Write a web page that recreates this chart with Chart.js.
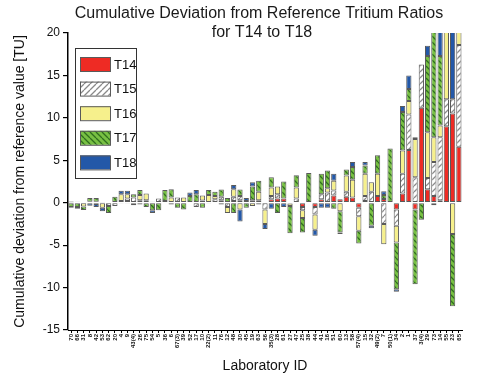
<!DOCTYPE html>
<html><head><meta charset="utf-8">
<script src="https://cdn.jsdelivr.net/npm/chart.js@4.4.1/dist/chart.umd.min.js"></script>
<style>html,body{margin:0;padding:0;background:#fff}canvas{display:block}</style>
</head><body>
<canvas id="c" width="500" height="375"></canvas>
<script>
const labs = ['70','66','31','8','42','53','62','20','4','9','43(4)','26','75','54','5','36','6','67(3)','39','52','17','10','22(2)','11','76','12','48','30','45','19','63','56','35(3)','28','61','27','47','25','38','44','41','16','51','60','13','58','57(4)','15','32','49(2)','7','50(1)','34','2','1','37','3(4)','29','73','14','55','23','65'];
const T14 = [0.05,0.1,-0.05,0.1,0.1,0.05,0,0,0.2,0.2,0,-0.2,0.3,0.1,0,0.2,0,0,0,0,0,0.25,-0.1,0,0.3,0,0.2,0.3,0.2,0.3,0.3,0,0.4,0.5,0.5,-0.1,0,-0.5,0,-0.5,0.4,0,0.85,0.4,0.7,0.6,-0.6,0.2,0,0.8,0.45,0,-0.8,1.1,6.2,-0.8,11.2,1.6,0.8,0.3,9.0,10.5,6.6];
const T15 = [0,0,0,0,0,0,-0.4,-0.4,0,0.3,0.6,0.3,0,0,0.5,0,-0.2,0.6,0,0,-0.5,0,0,0.4,0.4,-0.5,0.5,0.5,0,0,0,-0.8,0.4,0.5,0,0,0.5,-0.4,0,-0.9,0.6,1.2,0.6,0,0.6,0,-1.0,0.6,1.3,0,-2.5,0,-1.9,2.3,4.2,3.0,5.1,1.3,4.0,7.4,3.2,1.7,12.0];
const T16 = [0.1,0,-0.4,0,-0.15,-0.6,0,0,0.8,0.5,-0.3,0.6,0.8,0,0,0,0.6,0,0.6,0,0,0.6,0.9,0.4,-0.2,-0.7,0.9,-0.8,0,-0.4,1.0,-1.7,1.0,0.9,0,-0.3,1.3,-0.9,0,-1.8,0,0.5,1.15,-1.0,1.9,2.1,-1.7,2.6,1.1,2.6,-2.4,0,-2.0,2.75,1.6,4.5,0,5.4,2.9,1.4,8.5,-3.7,2.2];
const T17 = [-0.5,-0.5,-0.4,0.45,0.45,0,-0.8,0.7,-0.1,-0.1,0.4,0.6,-0.5,-0.9,-0.9,1.3,1.0,-0.6,-0.8,0.8,1.0,-0.6,0.6,0.5,0.85,0.55,-1.2,0.75,-0.6,1.6,1.3,0,1.2,-1.2,2.0,-3.2,1.45,-1.7,3.5,0,2.4,2.1,-0.7,-2.5,0.7,1.5,-1.5,1.0,-2.7,2.2,0.45,6.4,-5.5,4.55,1.4,-8.8,-2.0,9.0,13.0,8.2,0,-8.5,0];
const T18 = [-0.1,-0.2,0,-0.35,-0.35,-0.4,0,0,0.4,0.4,0,0,0,-0.3,0,0,0,0,0,0.4,0.5,0,0,0,0,0,0.5,-1.4,0.35,0.5,-0.2,-0.6,-0.7,0,-0.5,0,0,0,0,-0.7,-0.6,-0.6,0.8,-0.2,0,0.6,0,0.4,-0.3,0,0.45,0,-0.3,0.7,1.6,0.2,0,1.2,-0.3,3.5,0,8.5,0];
const seriesNames = ['T14','T15','T16','T17','T18'];
const yTicks = [-15,-10,-5,0,5,10,15,20];
const titleLines = ['Cumulative Deviation from Reference Tritium Ratios','for T14 to T18'];

const FONT = '"Liberation Sans", Arial, sans-serif';
const cv = document.getElementById('c');
const ctx = cv.getContext('2d');
function hatch(bg, line, dir) {
  const s = 6, c = document.createElement('canvas'); c.width = s; c.height = s;
  const g = c.getContext('2d');
  g.fillStyle = bg; g.fillRect(0,0,s,s);
  g.strokeStyle = line; g.lineWidth = 1.3; g.beginPath();
  if (dir > 0) { for (let k=-1;k<=1;k++){ g.moveTo(k*s, s); g.lineTo(k*s+s, 0); } }
  else { for (let k=-1;k<=1;k++){ g.moveTo(k*s, 0); g.lineTo(k*s+s, s); } }
  g.stroke();
  return ctx.createPattern(c, 'repeat');
}
const fills = ['#ee2b24', hatch('#ffffff','#8a8a8a',1), '#f6f08c', hatch('#78c043','#2f6e1e',-1), '#2358a8'];
const values = [T14,T15,T16,T17,T18];

const datasets = seriesNames.map((n,i)=>({
  label: n,
  data: values[i].map(v => v === 0 ? null : v),
  backgroundColor: fills[i],
  borderColor: '#5a5a5a',
  borderWidth: 1,
  borderSkipped: false,
  barPercentage: 0.84,
  categoryPercentage: 1.0,
  stack: 's'
}));

const titlePlugin = {
  id: 'titleP',
  afterDraw(chart) {
    const c = chart.ctx; c.save();
    c.fillStyle = '#1a1a1a'; c.font = '16px ' + FONT;
    c.textAlign = 'center'; c.textBaseline = 'middle';
    c.fillText(titleLines[0], 259, 14);
    c.fillText(titleLines[1], 262, 33);
    c.restore();
  }
};
const legendPlugin = {
  id: 'legendP',
  afterDatasetsDraw(chart) {
    const c = chart.ctx; c.save();
    const x0 = 75, y0 = 48, w = 61, h = 130;
    c.fillStyle = '#fff'; c.fillRect(x0, y0, w, h);
    c.strokeStyle = '#333'; c.lineWidth = 1; c.strokeRect(x0+0.5, y0+0.5, w, h);
    c.font = '13px ' + FONT; c.textBaseline = 'middle'; c.textAlign = 'left';
    seriesNames.forEach((n,i)=>{
      const cy = 64 + i*24.6;
      c.fillStyle = fills[i]; c.fillRect(80, cy-7, 30, 14);
      c.strokeStyle = '#5a5a5a'; c.strokeRect(80.5, cy-6.5, 30, 14);
      c.fillStyle = '#111'; c.fillText(n, 114, cy+1);
    });
    c.restore();
  }
};

new Chart(cv, {
  type: 'bar',
  data: { labels: labs, datasets },
  plugins: [titlePlugin, legendPlugin],
  options: {
    responsive: false, animation: false,
    layout: { padding: { top: 33, right: 38, left: 12, bottom: 0 } },
    plugins: { legend: { display: false }, title: { display: false }, tooltip: { enabled: false } },
    scales: {
      x: {
        stacked: true,
        afterFit: s => { s.height = 45; },
        grid: { drawOnChartArea: false, drawTicks: true, tickLength: 3, color: '#000', offset: false },
        border: { display: true, color: '#000', width: 1 },
        ticks: { autoSkip: false, minRotation: 90, maxRotation: 90, padding: 1, color: '#111', font: { size: 6, family: FONT, weight: 'bold' } },
        title: { display: true, text: 'Laboratory ID', color: '#111', font: { size: 14, family: FONT }, padding: { top: 0, bottom: 0 } }
      },
      y: {
        stacked: true, min: -15, max: 20,
        afterFit: s => { s.width = 56; },
        afterBuildTicks: s => { s.ticks = yTicks.map(v => ({ value: v })); },
        grid: { drawOnChartArea: false, drawTicks: true, tickLength: 5, color: '#000', lineWidth: 1.2 },
        border: { display: true, color: '#000', width: 1.5 },
        ticks: { color: '#111', padding: 3, font: { size: 12, family: FONT } },
        title: { display: true, text: 'Cumulative deviation from reference value [TU]', color: '#111', font: { size: 14, family: FONT }, padding: { top: 0, bottom: 0 } }
      }
    }
  }
});
</script>
</body></html>
